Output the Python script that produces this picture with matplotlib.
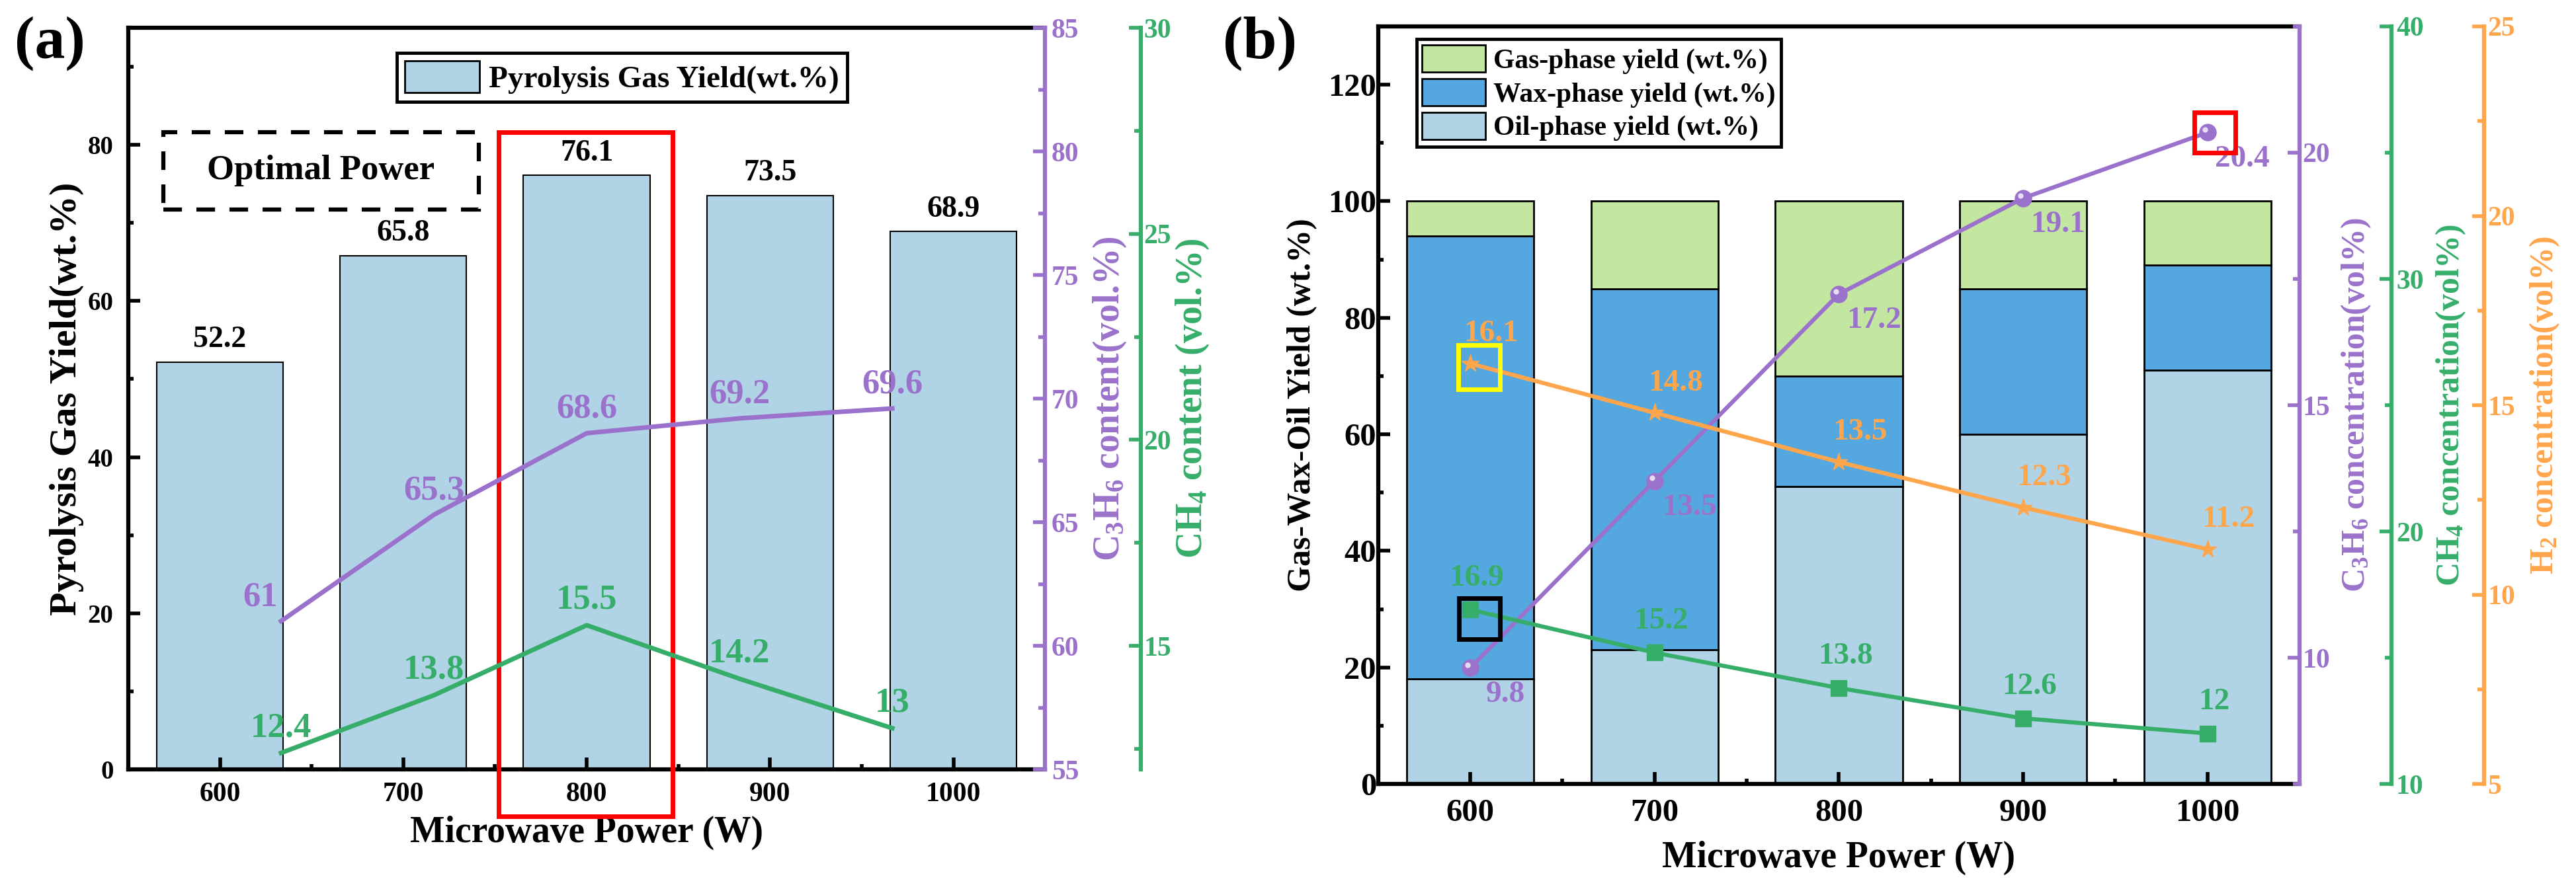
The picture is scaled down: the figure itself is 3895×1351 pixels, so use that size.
import matplotlib

matplotlib.use("Agg")
import matplotlib.pyplot as plt
from matplotlib.patches import Rectangle
from matplotlib.ticker import FixedLocator, MultipleLocator
from matplotlib.transforms import offset_copy

# shared x data
power = [600, 700, 800, 900, 1000]
line_index = [1, 2, 3, 4, 5]  # line layer of panel (a) uses its own index axis

# panel (a)
gas_yield = [52.2, 65.8, 76.1, 73.5, 68.9]
c3h6_content = [61, 65.3, 68.6, 69.2, 69.6]
ch4_content = [12.4, 13.8, 15.5, 14.2, 13]

# panel (b)
oil_yield = [18, 23, 51, 60, 71]
wax_yield = [76, 62, 19, 25, 18]
gasphase_yield = [6, 15, 30, 15, 11]
c3h6_conc = [9.8, 13.5, 17.2, 19.1, 20.4]
ch4_conc = [16.9, 15.2, 13.8, 12.6, 12]
h2_conc = [16.1, 14.8, 13.5, 12.3, 11.2]

PURPLE = "#9B72CB"
GREEN = "#36AE6A"
ORANGE = "#FFA54C"
LIGHT_BLUE = "#B0D4E6"
WAX_BLUE = "#54A7DF"
GAS_GREEN = "#C3E6A0"

plt.rcParams.update({
    "font.family": ["Liberation Serif", "DejaVu Serif"],
    "font.weight": "bold",
    "axes.labelweight": "bold",
    "mathtext.fontset": "custom",
    "mathtext.rm": "Liberation Serif:bold",
    "mathtext.it": "Liberation Serif:bold:italic",
    "mathtext.bf": "Liberation Serif:bold",
    "mathtext.default": "regular",
    "axes.linewidth": 4.5,
})


def style_host(ax, tick_size, pad_x, pad_y):
    ax.spines["right"].set_visible(False)
    ax.set_xticks(power)
    ax.xaxis.set_minor_locator(FixedLocator([650, 750, 850, 950]))
    ax.tick_params(which="both", direction="in", width=4, top=False, right=False)
    ax.tick_params(which="major", length=13)
    ax.tick_params(which="minor", length=6)
    ax.tick_params(axis="x", labelsize=tick_size[0], pad=pad_x)
    ax.tick_params(axis="y", labelsize=tick_size[1], pad=pad_y)


def style_right(ax, color, lims, major, minor, pos=None, size=30, pad=4):
    ax.set_ylim(*lims)
    ax.patch.set_visible(False)
    for name, sp in ax.spines.items():
        sp.set_visible(name == "right")
    ax.spines["right"].set_color(color)
    ax.spines["right"].set_linewidth(4.5)
    if pos is not None:
        ax.spines["right"].set_position(("axes", pos))
    ax.yaxis.tick_right()
    ax.yaxis.set_label_position("right")
    ax.yaxis.set_major_locator(MultipleLocator(major))
    ax.yaxis.set_minor_locator(MultipleLocator(minor))
    ax.tick_params(axis="y", which="both", direction="in", colors=color, width=4,
                   labelsize=size, pad=pad)
    ax.tick_params(axis="y", which="major", length=13)
    ax.tick_params(axis="y", which="minor", length=7)


fig = plt.figure(figsize=(38.95, 13.51), dpi=100)

# ---------------- panel (a) ----------------
rect_a = [0.0498, 0.1384, 0.3559, 0.8305]
ax_a = fig.add_axes(rect_a)
bars_a = ax_a.bar(power, gas_yield, width=69, color=LIGHT_BLUE, edgecolor="black",
                  linewidth=1.5, label="Pyrolysis Gas Yield(wt.%)")
ax_a.set_xlim(550, 1050)
ax_a.set_ylim(0, 95)
ax_a.yaxis.set_major_locator(MultipleLocator(20))
ax_a.yaxis.set_minor_locator(MultipleLocator(10))
style_host(ax_a, (30, 28), 14, 16)
ax_a.bar_label(bars_a, fmt="%.1f", padding=9, fontsize=33, fontweight="bold")
ax_a.set_xlabel("Microwave Power (W)", fontsize=40)
ax_a.xaxis.set_label_coords(0.5, -0.062)
ax_a.set_ylabel("Pyrolysis Gas Yield(wt.%)", fontsize=42)
ax_a.yaxis.set_label_coords(-0.048, 0.5)

leg_a = ax_a.legend(loc="upper left", bbox_to_anchor=(0.293, 0.966), fontsize=34,
                    fancybox=False, edgecolor="black", framealpha=1,
                    handlelength=2.4, handleheight=1.2, borderpad=0.25,
                    handletextpad=0.3, borderaxespad=0)
leg_a.get_frame().set_linewidth(3.5)
for patch in leg_a.get_patches():
    patch.set_linewidth(2)

# optimal power highlight and note
ax_a.add_patch(Rectangle((752, -6), 95, 87.6, fill=False, edgecolor="red",
                         linewidth=5, clip_on=False, zorder=6))
ax_a.add_patch(Rectangle((569, 71.7), 172, 9.9, fill=False, edgecolor="black",
                         linewidth=4.5, linestyle=(0, (4.5, 3.5)), zorder=6))
ax_a.text(655, 76.7, "Optimal Power", fontsize=38, ha="center", va="center")

ax_ap = fig.add_axes(rect_a)
ax_ap.set_xlim(0, 6)
ax_ap.xaxis.set_visible(False)
style_right(ax_ap, PURPLE, (55, 85), 5, 2.5, size=30, pad=7)
ax_ap.plot(line_index, c3h6_content, color=PURPLE, linewidth=5)
for i, (x, v) in enumerate(zip(line_index, c3h6_content)):
    ha, dx = ("right", -4) if i == 0 else ("center", 0)
    ax_ap.annotate(f"{v:g}", (x, v), xytext=(dx, 9), textcoords="offset points",
                   ha=ha, va="bottom", color=PURPLE, fontsize=38)
ax_ap.set_ylabel("C$_3$H$_6$ content(vol.%)", fontsize=40, color=PURPLE)
ax_ap.yaxis.set_label_coords(1.0505, 0.5)

ax_ag = fig.add_axes(rect_a)
ax_ag.set_xlim(0, 6)
ax_ag.xaxis.set_visible(False)
style_right(ax_ag, GREEN, (12, 30), 5, 2.5, pos=1.1046, size=30, pad=3)
ax_ag.plot(line_index, ch4_content, color=GREEN, linewidth=5)
for i, (x, v) in enumerate(zip(line_index, ch4_content)):
    ax_ag.annotate(f"{v:g}", (x, v), xytext=(0, 10), textcoords="offset points",
                   ha="center", va="bottom", color=GREEN, fontsize=38)
ax_ag.set_ylabel("CH$_4$ content (vol.%)", fontsize=40, color=GREEN)
ax_ag.yaxis.set_label_coords(1.1407, 0.5)

fig.text(0.0056, 0.982, "(a)", fontsize=66, va="top", ha="left")

# ---------------- panel (b) ----------------
rect_b = [0.535, 0.1221, 0.3577, 0.8483]
ax_b = fig.add_axes(rect_b)
b_oil = ax_b.bar(power, oil_yield, width=69, color=LIGHT_BLUE, edgecolor="black",
                 linewidth=2, label="Oil-phase yield (wt.%)")
b_wax = ax_b.bar(power, wax_yield, width=69, bottom=oil_yield, color=WAX_BLUE,
                 edgecolor="black", linewidth=2, label="Wax-phase yield (wt.%)")
wax_top = [o + w for o, w in zip(oil_yield, wax_yield)]
b_gas = ax_b.bar(power, gasphase_yield, width=69, bottom=wax_top, color=GAS_GREEN,
                 edgecolor="black", linewidth=2, label="Gas-phase yield (wt.%)")
ax_b.set_xlim(550, 1050)
ax_b.set_ylim(0, 130)
ax_b.yaxis.set_major_locator(MultipleLocator(20))
ax_b.yaxis.set_minor_locator(MultipleLocator(10))
style_host(ax_b, (35, 35), 16, 2)
ax_b.set_xlabel("Microwave Power (W)", fontsize=40)
ax_b.xaxis.set_label_coords(0.5, -0.075)
ax_b.set_ylabel("Gas-Wax-Oil Yield (wt.%)", fontsize=36)
ax_b.yaxis.set_label_coords(-0.066, 0.5)

leg_b = ax_b.legend(handles=[b_gas, b_wax, b_oil], loc="upper left",
                    bbox_to_anchor=(0.0416, 0.983), fontsize=30, fancybox=False,
                    edgecolor="black", framealpha=1, handlelength=2.3,
                    handleheight=1.15, labelspacing=0.17, borderpad=0.2,
                    handletextpad=0.3, borderaxespad=0)
leg_b.get_frame().set_linewidth(3.5)

ax_bp = ax_b.twinx()
style_right(ax_bp, PURPLE, (7.5, 22.5), 5, 2.5, size=30, pad=3)
ax_bp.plot(power, c3h6_conc, color=PURPLE, linewidth=4.5, marker="o", markersize=18)
# small highlight on the spheres
shine = offset_copy(ax_bp.transData, fig=fig, x=-3, y=3, units="points")
ax_bp.plot(power, c3h6_conc, linestyle="none", marker="o", markersize=5,
           color="#E6DDF3", transform=shine)
for x, v in zip(power, c3h6_conc):
    ax_bp.annotate(f"{v:g}", (x, v), xytext=(38, -14), textcoords="offset points",
                   ha="center", va="top", color=PURPLE, fontsize=34)
ax_bp.set_ylabel("C$_3$H$_6$ concentration(vol%)", fontsize=36, color=PURPLE)
ax_bp.yaxis.set_label_coords(1.043, 0.5)
ax_bp.add_patch(Rectangle((993, 20.0), 22, 0.8, fill=False, edgecolor="red",
                          linewidth=5, zorder=6))

ax_bg = ax_b.twinx()
style_right(ax_bg, GREEN, (10, 40), 10, 5, pos=1.0998, size=30, pad=5)
ax_bg.plot(power, ch4_conc, color=GREEN, linewidth=4.5, marker="s", markersize=17)
for x, v in zip(power, ch4_conc):
    ax_bg.annotate(f"{v:g}", (x, v), xytext=(7, 19), textcoords="offset points",
                   ha="center", va="bottom", color=GREEN, fontsize=34)
ax_bg.set_ylabel("CH$_4$ concentration(vol%)", fontsize=36, color=GREEN)
ax_bg.yaxis.set_label_coords(1.1457, 0.5)
ax_bg.add_patch(Rectangle((594, 15.73), 22, 1.63, fill=False, edgecolor="black",
                          linewidth=5, zorder=6))

ax_bo = ax_b.twinx()
style_right(ax_bo, ORANGE, (5, 25), 5, 2.5, pos=1.2003, size=30, pad=4)
ax_bo.plot(power, h2_conc, color=ORANGE, linewidth=4.5, marker="*", markersize=20)
for x, v in zip(power, h2_conc):
    ax_bo.annotate(f"{v:g}", (x, v), xytext=(23, 17), textcoords="offset points",
                   ha="center", va="bottom", color=ORANGE, fontsize=34)
ax_bo.set_ylabel("H$_2$ concentration(vol%)", fontsize=36, color=ORANGE)
ax_bo.yaxis.set_label_coords(1.2477, 0.5)
ax_bo.add_patch(Rectangle((593.5, 15.42), 22.5, 1.17, fill=False, edgecolor="yellow",
                          linewidth=5, zorder=6))

fig.text(0.4747, 0.982, "(b)", fontsize=66, va="top", ha="left")

fig.savefig("out.png", dpi=100)
